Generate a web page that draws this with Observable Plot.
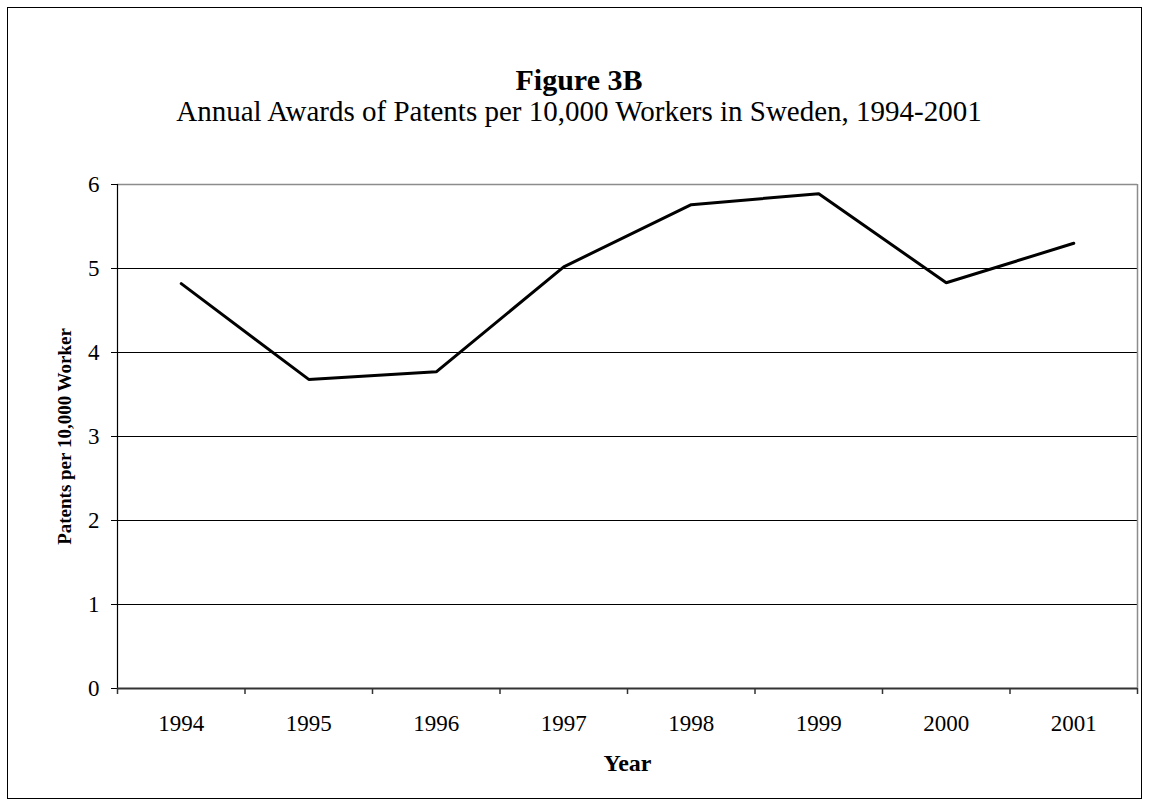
<!DOCTYPE html>
<html>
<head>
<meta charset="utf-8">
<script src="https://cdn.jsdelivr.net/npm/d3@7"></script>
<script src="https://cdn.jsdelivr.net/npm/@observablehq/plot@0.6"></script>
<style>
  html, body { margin: 0; padding: 0; background: #fff; }
  body { width: 1152px; height: 811px; position: relative; overflow: hidden; font-family: "Liberation Serif", "Times New Roman", serif; }
  #frame { position: absolute; left: 7px; top: 7px; width: 1135px; height: 792px; border: 1px solid #000; box-sizing: border-box; }
  .ttl { position: absolute; left: 4px; width: 1150px; text-align: center; line-height: 1; color: #000; white-space: nowrap; }
  #title { top: 65px; font-size: 30px; font-weight: bold; }
  #subtitle { top: 97px; font-size: 29px; }
  #chart { position: absolute; left: 0; top: 170px; }
</style>
</head>
<body>
<div id="frame"></div>
<div class="ttl" id="title">Figure 3B</div>
<div class="ttl" id="subtitle">Annual Awards of Patents per 10,000 Workers in Sweden, 1994-2001</div>
<div id="chart"></div>
<script>
const years = [1994, 1995, 1996, 1997, 1998, 1999, 2000, 2001];
const patents = [4.82, 3.68, 3.77, 5.02, 5.76, 5.89, 4.83, 5.30];
const yTicks = [0, 1, 2, 3, 4, 5, 6];
const xLabel = "Year";
const yLabel = "Patents per 10,000 Worker";

const data = years.map((year, i) => ({year, value: patents[i]}));
const bounds = [years[0] - 0.5, ...years.map(y => y + 0.5)];
const innerTicks = yTicks.slice(1, -1);
const topTick = yTicks[yTicks.length - 1];

const chart = Plot.plot({
  width: 1152,
  height: 630,
  marginLeft: 117,
  marginRight: 15,
  marginTop: 14,
  marginBottom: 112,
  style: {fontFamily: "Liberation Serif, Times New Roman, serif", fontSize: "23px", color: "#000", background: "transparent", overflow: "visible"},
  x: {domain: [bounds[0], bounds[bounds.length - 1]]},
  y: {domain: [yTicks[0], topTick]},
  marks: [
    Plot.ruleY(innerTicks, {stroke: "#000", strokeWidth: 1}),
    Plot.ruleY([topTick], {stroke: "#8c8c8c", strokeWidth: 1.5}),
    Plot.ruleX([bounds[bounds.length - 1]], {stroke: "#8c8c8c", strokeWidth: 1.5}),
    Plot.axisY({ticks: yTicks, tickSize: 6, tickPadding: 12, tickFormat: d => String(d), label: null, fontSize: 23, stroke: "#000", strokeOpacity: 1}),
    Plot.axisX({ticks: years, tickSize: 0, tickPadding: 26, tickFormat: d => String(d), label: null, fontSize: 23}),
    Plot.axisX({ticks: bounds, tickSize: 6, tickFormat: () => "", label: null, stroke: "#333", strokeOpacity: 1, strokeWidth: 1.5}),
    Plot.ruleX([bounds[0]], {stroke: "#000", strokeWidth: 1.2}),
    Plot.ruleY([yTicks[0]], {stroke: "#333", strokeWidth: 1.8}),
    Plot.line(data, {x: "year", y: "value", stroke: "#000", strokeWidth: 3, strokeLinejoin: "miter"}),
    Plot.text([xLabel], {frameAnchor: "bottom", lineAnchor: "bottom", dy: 82, fontWeight: "bold", fontSize: 24, fill: "#000"}),
    Plot.text([yLabel], {frameAnchor: "left", textAnchor: "middle", rotate: -90, dx: -53, fontWeight: "bold", fontSize: 19, fill: "#000"})
  ]
});
document.getElementById("chart").appendChild(chart);
</script>
</body>
</html>
